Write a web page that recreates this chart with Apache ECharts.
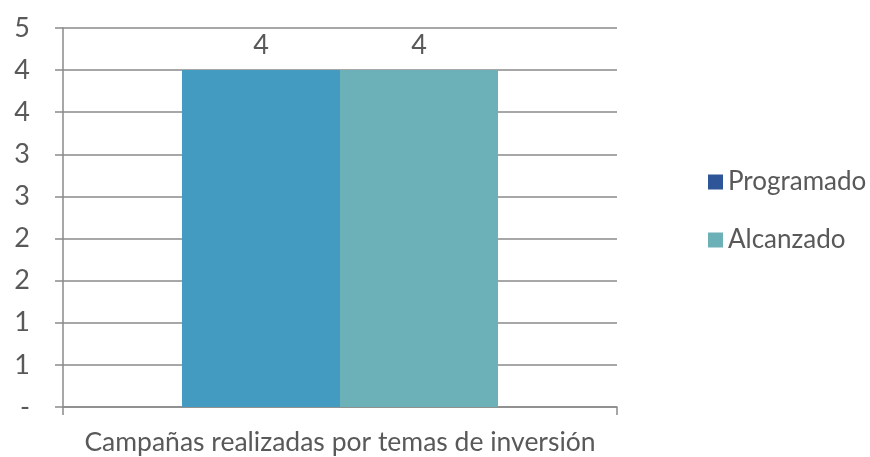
<!DOCTYPE html>
<html><head><meta charset="utf-8">
<script src="https://cdn.jsdelivr.net/npm/echarts@6/dist/echarts.min.js"></script>
<style>html,body{margin:0;padding:0;background:#fff}#c{width:870px;height:457px}</style>
</head><body><div id="c"></div>
<script>
const categories = ['Campañas realizadas por temas de inversión'];
const programado = [4];
const alcanzado = [4];
const yTickLabels = ['-', '1', '1', '2', '2', '3', '3', '4', '4', '5'];
const seriesNames = ['Programado', 'Alcanzado'];
const barColors = ['#439BC1', '#6DB1B8'];
const legendColors = ['#2E5597', '#6DB1B8'];
const font = 'Lato';
const chart = echarts.init(document.getElementById('c'));
chart.setOption({
  animation: false,
  grid: {left: 63, right: 253, top: 28, bottom: 50, containLabel: false},
  legend: {
    orient: 'vertical', left: 703, top: 164, itemGap: 32,
    itemWidth: 15, itemHeight: 15,
    icon: 'rect',
    textStyle: {fontFamily: font, fontSize: 26, color: '#595959', padding: [0,0,0,0]},
    data: seriesNames.map((n, i) => ({name: n, itemStyle: {color: legendColors[i]}}))
  },
  xAxis: {
    type: 'category', data: categories,
    axisLine: {lineStyle: {color: '#8a8a8a', width: 1.5}},
    axisTick: {show: true, length: 8, lineStyle: {color: '#8a8a8a', width: 1.5}},
    axisLabel: {fontFamily: font, fontSize: 26.5, color: '#595959', margin: 22}
  },
  yAxis: {
    type: 'value', min: 0, max: 4.5, interval: 0.5,
    axisLine: {show: true, lineStyle: {color: '#8a8a8a', width: 1.5}},
    axisTick: {show: true, length: 8, inside: false, lineStyle: {color: '#8a8a8a', width: 1.5}},
    splitLine: {lineStyle: {color: '#8a8a8a', width: 1.5}},
    axisLabel: {fontFamily: font, fontSize: 27, color: '#595959', margin: 33,
      formatter: v => yTickLabels[Math.round(v / 0.5)]}
  },
  series: [
    {name: seriesNames[0], type: 'bar', data: programado, barWidth: 158, barGap: '0%',
     itemStyle: {color: barColors[0]},
     label: {show: true, position: 'top', distance: 11, fontFamily: font, fontSize: 27, color: '#595959'}},
    {name: seriesNames[1], type: 'bar', data: alcanzado, barWidth: 158, barGap: '0%',
     itemStyle: {color: barColors[1]},
     label: {show: true, position: 'top', distance: 11, fontFamily: font, fontSize: 27, color: '#595959'}}
  ]
});
</script></body></html>
